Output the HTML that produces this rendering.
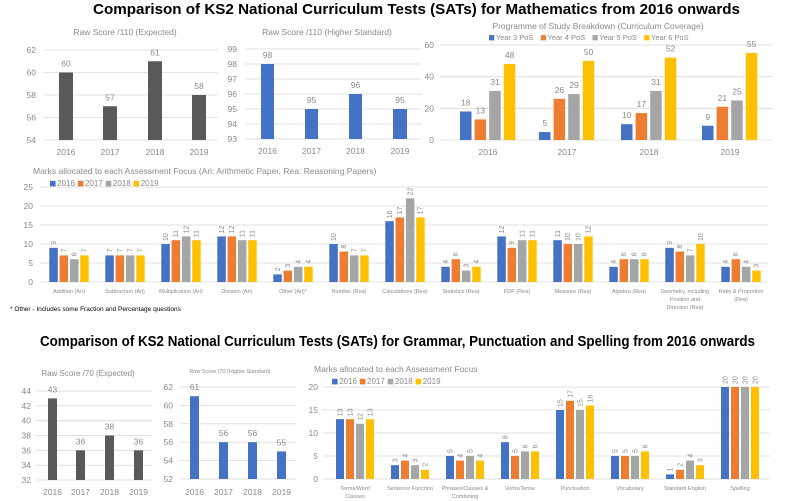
<!DOCTYPE html>
<html><head><meta charset="utf-8"><style>
body{margin:0;background:#fff;}
svg{display:block;font-family:"Liberation Sans",sans-serif;}
</style></head><body>
<svg id="s" width="789" height="501" xmlns="http://www.w3.org/2000/svg">
<text x="93" y="14" font-size="15" font-weight="bold" fill="#000" textLength="647" lengthAdjust="spacingAndGlyphs">Comparison of KS2 National Curriculum Tests (SATs) for Mathematics from 2016 onwards</text>
<text x="40" y="346" font-size="14.5" font-weight="bold" fill="#000" textLength="715" lengthAdjust="spacingAndGlyphs">Comparison of KS2 National Curriculum Tests (SATs) for Grammar, Punctuation and Spelling from 2016 onwards</text>
<text x="10" y="311" font-size="6.5" fill="#000">* Other - Includes some Fraction and Percentage questions</text>
</svg>
<script>
const S=document.getElementById('s');const NS="http://www.w3.org/2000/svg";
function el(t,a,txt){const e=document.createElementNS(NS,t);for(const k in a)e.setAttribute(k,a[k]);if(txt!==undefined)e.textContent=txt;S.appendChild(e);return e;}
const C=['#4472C4','#ED7D31','#A5A5A5','#FFC000'],G='#8a8a8a',L='#d9d9d9';
function simple(o){
  const {min,max,step,y0,y1,xl,gx0,gx1,bars,vals,col,title,tx,ty,ts,yl}=o;
  const sc=v=>y1-(v-min)/(max-min)*(y1-y0);
  for(let v=min;v<=max;v+=step){el('line',{x1:gx0,x2:gx1,y1:sc(v),y2:sc(v),stroke:L,'stroke-width':0.8});
    el('text',{x:xl,y:sc(v)+3,'text-anchor':'end','font-size':8.5,fill:G},v);}
  el('text',{x:tx,y:ty,'text-anchor':'middle','font-size':ts,fill:G},title);
  bars.forEach((b,i)=>{const y=sc(vals[i]);el('rect',{x:b[0],y:y,width:b[1]-b[0],height:y1-y,fill:col});
    el('text',{x:(b[0]+b[1])/2,y:y-6,'text-anchor':'middle','font-size':8.5,fill:G},vals[i]);
    el('text',{x:(b[0]+b[1])/2,y:yl,'text-anchor':'middle','font-size':8.5,fill:G},2016+i);});
}
simple({min:54,max:62,step:2,y0:50,y1:140,xl:36,gx0:44,gx1:218,bars:[[59,73],[103,117],[148,162],[192,206]],vals:[60,57,61,58],col:'#595959',title:'Raw Score /110 (Expected)',tx:125,ty:35,ts:8.5,yl:155});
simple({min:93,max:99,step:1,y0:49,y1:139,xl:237,gx0:245,gx1:422,bars:[[261,274],[305,318],[349,362],[393,407]],vals:[98,95,96,95],col:'#4472C4',title:'Raw Score /110 (Higher Standard)',tx:327,ty:35,ts:8.5,yl:154});
simple({min:32,max:44,step:2,y0:391,y1:480,xl:31,gx0:36,gx1:152,bars:[[48,57],[76,85],[105,114],[134,143]],vals:[43,36,38,36],col:'#595959',title:'Raw Score /70 (Expected)',tx:88,ty:376,ts:8,yl:495});
simple({min:52,max:62,step:2,y0:387,y1:479,xl:173,gx0:180,gx1:296,bars:[[190,199],[219,228],[248,257],[277,286]],vals:[61,56,56,55],col:'#4472C4',title:'Raw Score /70 (Higher Standard)',tx:230,ty:373,ts:5.5,yl:495});
function legend(x,y,names,fs,gap){let cx=x;names.forEach((n,i)=>{el('rect',{x:cx,y:y-fs*0.65,width:fs*0.7,height:fs*0.7,fill:C[i]});
  el('text',{x:cx+fs*0.9,y:y,'font-size':fs,fill:G},n);cx+=fs*0.9+n.length*fs*0.52+gap;});}
(function(){const sc=v=>140-v*95/60;
 for(let v=0;v<=60;v+=20){el('line',{x1:440,x2:772,y1:sc(v),y2:sc(v),stroke:L,'stroke-width':0.8});el('text',{x:434,y:sc(v)+3,'text-anchor':'end','font-size':8.5,fill:G},v);}
 el('text',{x:598,y:29,'text-anchor':'middle','font-size':8.5,fill:G},'Programme of Study Breakdown (Curriculum Coverage)');
 legend(489,40,['Year 3 PoS','Year 4 PoS','Year 5 PoS','Year 6 PoS'],7.5,6);
 const d=[[18,13,31,48],[5,26,29,50],[10,17,31,52],[9,21,25,55]];const cs=[488,567,649,730];
 d.forEach((g,i)=>{g.forEach((v,j)=>{const x=cs[i]-28+j*14.6;const y=sc(v);el('rect',{x:x,y:y,width:11.5,height:140-y,fill:C[j]});
   el('text',{x:x+5.8,y:y-6,'text-anchor':'middle','font-size':8.5,fill:G},v);});
  el('text',{x:cs[i],y:155,'text-anchor':'middle','font-size':8.5,fill:G},2016+i);});
})();
function grouped(o){const {max,step,y0,y1,xl,gx0,gx1,c0,dc,bw,bs,data,cats,title,tx,ty,lx,ly,lfs,cy,cfs,vfs}=o;
 const sc=v=>y1-v/max*(y1-y0);
 for(let v=0;v<=max;v+=step){el('line',{x1:gx0,x2:gx1,y1:sc(v),y2:sc(v),stroke:L,'stroke-width':0.8});el('text',{x:xl,y:sc(v)+3,'text-anchor':'end','font-size':8.5,fill:G},v);}
 el('text',{x:tx,y:ty,'font-size':8.5,fill:G},title);
 legend(lx,ly,['2016','2017','2018','2019'],lfs,4);
 data.forEach((g,i)=>{const c=c0+i*dc;g.forEach((v,j)=>{const x=c-(bs*1.5)-bw/2+j*bs;const y=sc(v);
   el('rect',{x:x,y:y,width:bw,height:y1-y,fill:C[j]});
   el('text',{x:x+bw/2+2.3,y:y-3,'font-size':vfs,fill:G,transform:`rotate(-90 ${x+bw/2+2.3} ${y-3})`,'text-anchor':'start'},v);});
  cats[i].split('|').forEach((ln,k)=>el('text',{x:c,y:cy+k*8,'text-anchor':'middle','font-size':cfs,fill:G},ln));});
}
grouped({max:25,step:5,y0:187,y1:282,xl:33,gx0:40,gx1:768,c0:69,dc:56,bw:8.5,bs:10.3,
 data:[[9,7,6,7],[7,7,7,7],[10,11,12,11],[12,12,11,11],[2,3,4,4],[10,8,7,7],[16,17,22,17],[4,6,3,4],[12,9,11,11],[11,10,10,12],[4,6,6,6],[9,8,7,10],[4,6,4,3]],
 cats:['Addition (Ari)','Subtraction (Ari)','Multiplication (Ari)','Division (Ari)','Other (Ari)*','Number (Rea)','Calculations (Rea)','Statistics (Rea)','FDP (Rea)','Measure (Rea)','Algebra (Rea)','Geometry, including|Position and|Direction (Rea)','Ratio & Proportion|(Rea)'],
 title:'Marks allocated to each Assessment Focus (Ari: Arithmetic Paper, Rea: Reasoning Papers)',tx:33,ty:174,lx:50,ly:186,lfs:8,cy:293,cfs:5.5,vfs:7});
grouped({max:20,step:5,y0:387,y1:479,xl:318,gx0:322,gx1:770,c0:355,dc:55,bw:8,bs:10,
 data:[[13,13,12,13],[3,4,3,2],[5,4,5,4],[8,5,6,6],[15,17,15,16],[5,5,5,6],[1,2,4,3],[20,20,20,20]],
 cats:['Terms/Word|Classes','Sentence Function','Phrases/Clauses &|Combining','Verbs/Tense','Punctuation','Vocabulary','Standard English','Spelling'],
 title:'Marks allocated to each Assessment Focus',tx:314,ty:372,lx:332,ly:384,lfs:8,cy:490,cfs:5.5,vfs:7});
</script>
</body></html>
